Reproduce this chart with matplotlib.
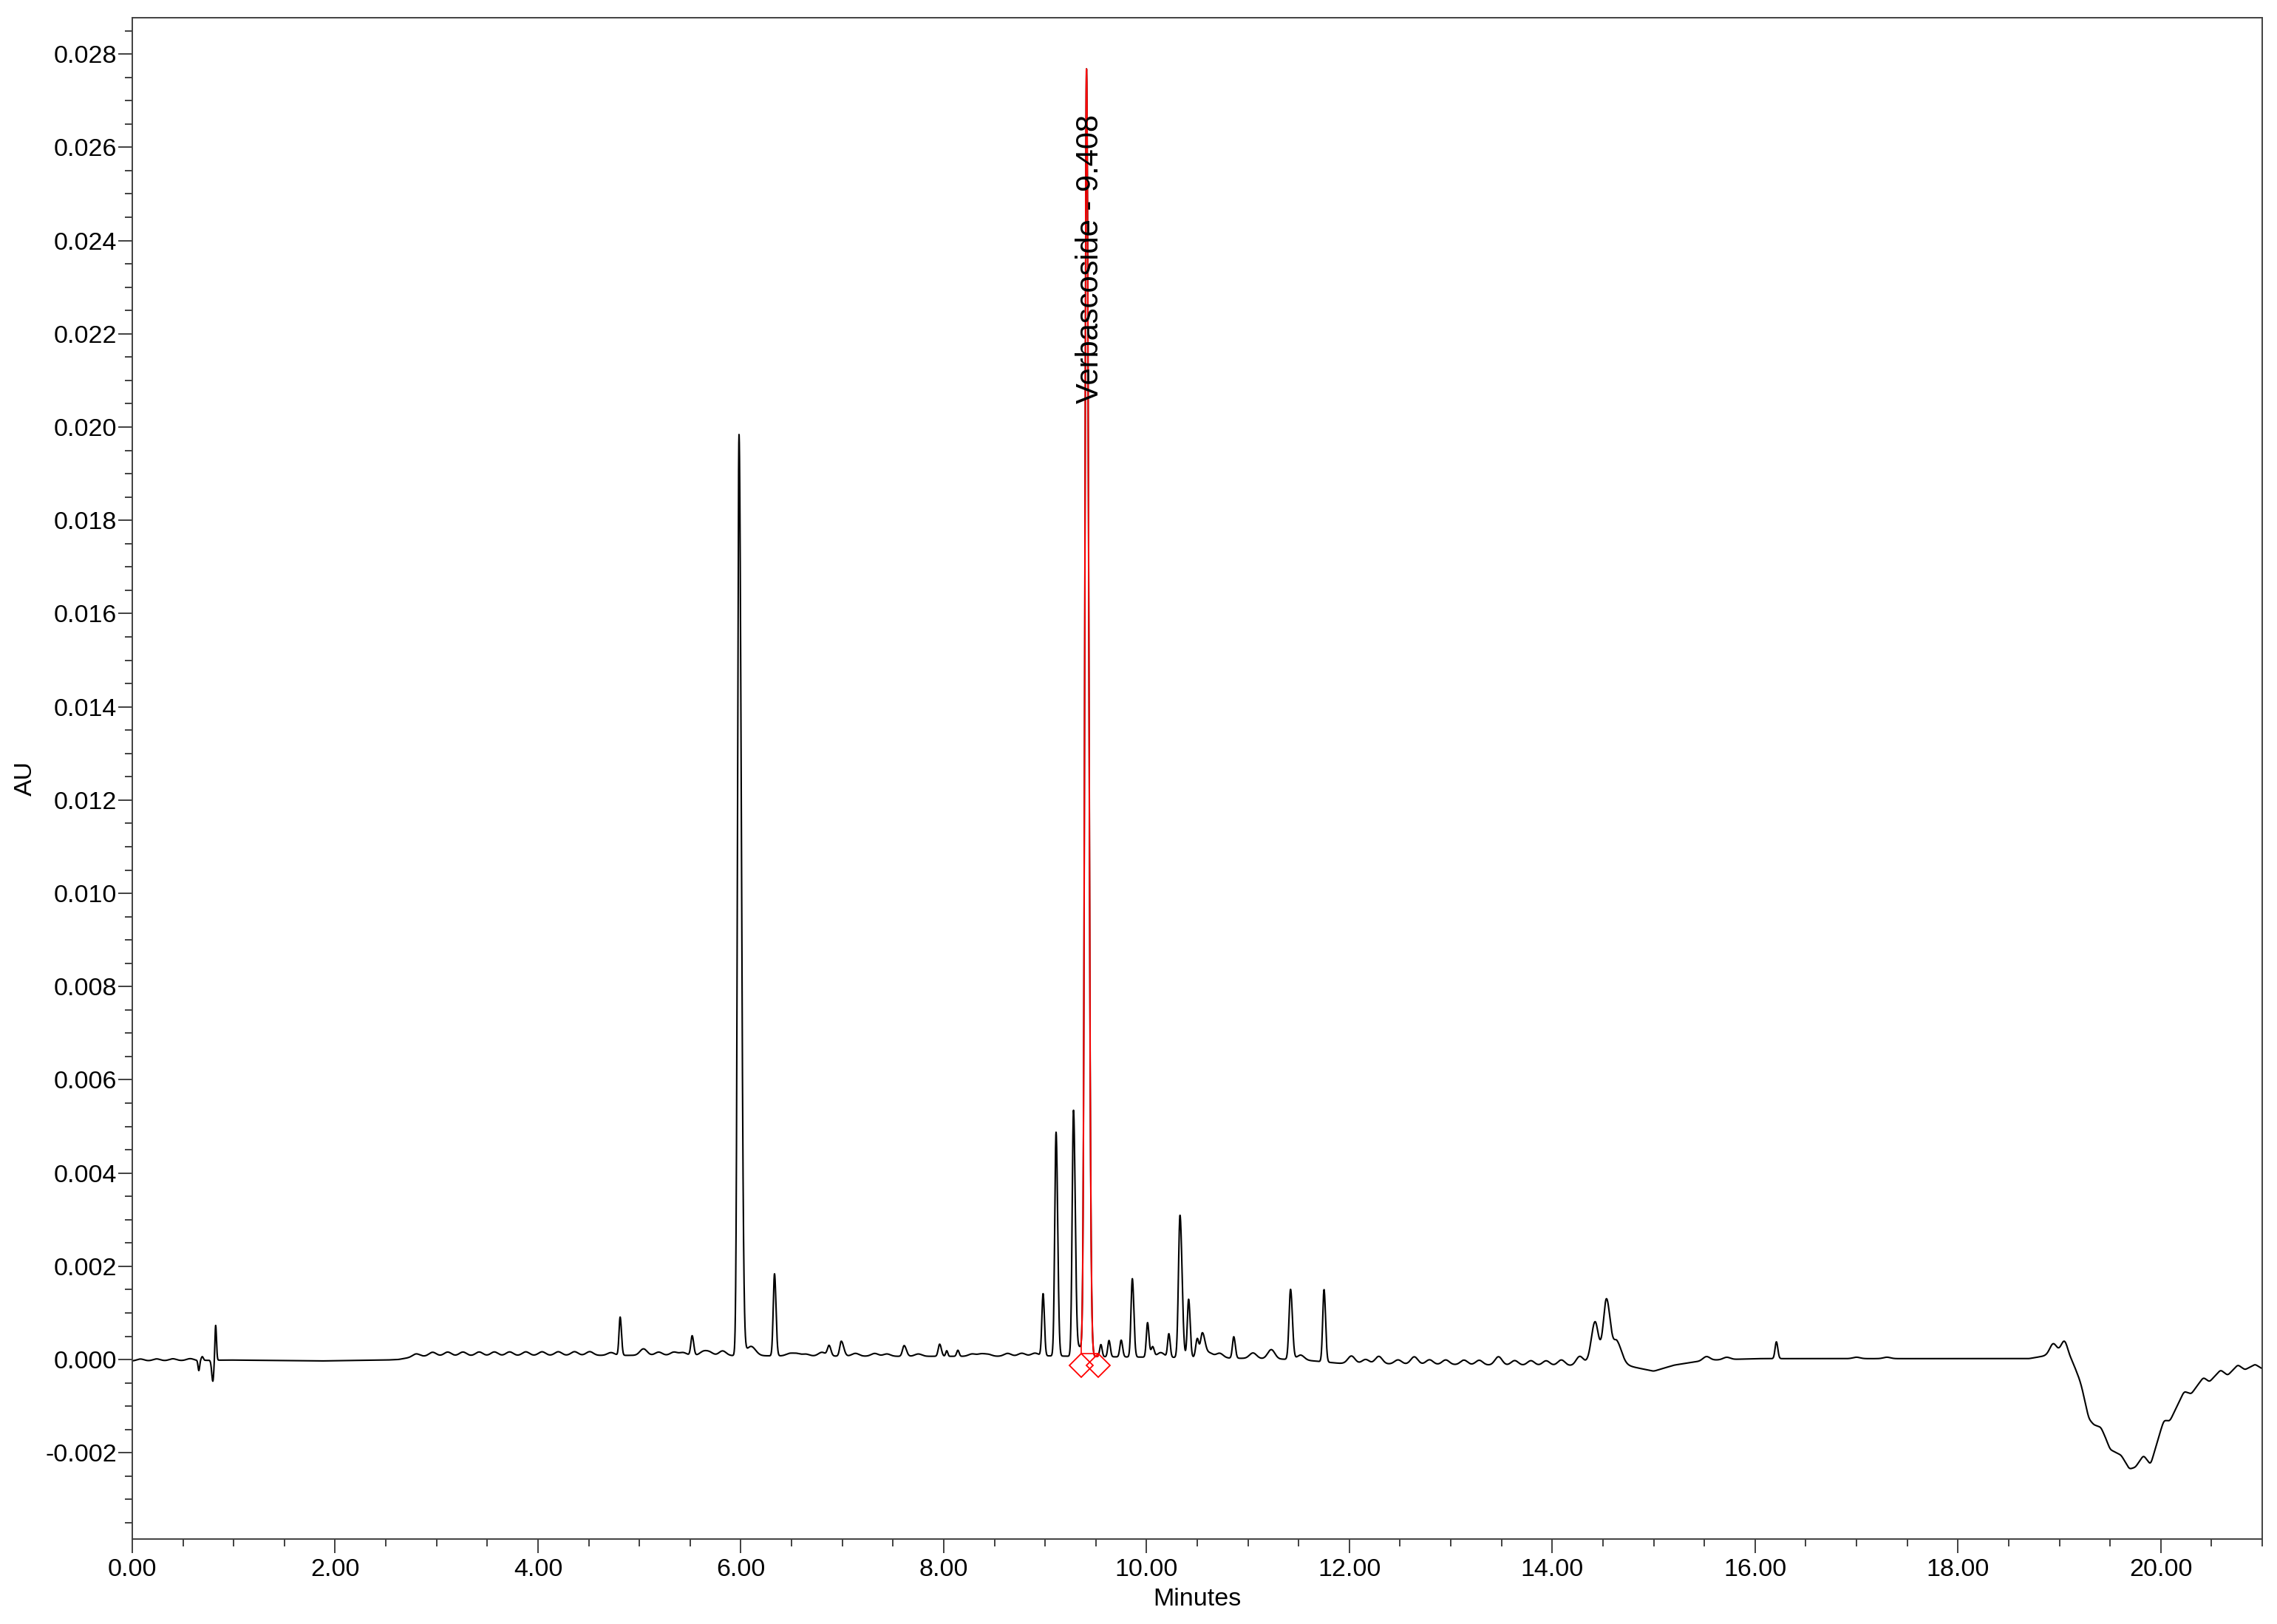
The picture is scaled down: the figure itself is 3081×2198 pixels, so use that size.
import numpy as np
import matplotlib
matplotlib.use("Agg")
import matplotlib.pyplot as plt
from matplotlib.ticker import MultipleLocator, FormatStrFormatter

# slow baseline of the trace (minutes, AU)
BASE_T = [0.00, 0.60, 0.95, 1.85, 2.50, 2.62, 2.78, 3.00, 4.50, 5.50, 6.30, 7.50,
          8.50, 9.00, 9.60, 10.60, 11.10, 11.50, 11.90, 12.60, 13.50, 14.20, 14.60,
          14.80, 15.00, 15.20, 15.40, 15.60, 16.00, 17.50, 18.70, 18.86, 19.05,
          19.13, 19.19, 19.22, 19.29, 19.34, 19.41, 19.46, 19.50, 19.61, 19.65,
          19.69, 19.75, 19.83, 19.90, 19.96, 20.03, 20.09, 20.16, 20.23, 20.30,
          20.42, 20.48, 20.59, 20.66, 20.76, 20.83, 20.93, 21.00]
BASE_AU = [-0.00003, -0.00002, -0.00001, -0.00003, -0.00001, 0.00000, 0.00006,
           0.00008, 0.00009, 0.00009, 0.00008, 0.00007, 0.00007, 0.00008, 0.00006,
           0.00004, 0.00002, 0.00000, -0.00008, -0.00010, -0.00012, -0.00013,
           -0.00006, -0.00016, -0.00025, -0.00012, -0.00005, -0.00001, 0.00002,
           0.00002, 0.00002, 0.00008, 0.00010, -0.00005, -0.00037, -0.00058,
           -0.00127, -0.00140, -0.00145, -0.00170, -0.00193, -0.00205, -0.00220,
           -0.00235, -0.00231, -0.00205, -0.00226, -0.00180, -0.00130, -0.00132,
           -0.00100, -0.00068, -0.00074, -0.00038, -0.00048, -0.00022, -0.00034,
           -0.00011, -0.00022, -0.00010, -0.00020]

# peaks: retention time, height above baseline, left / right width (min)
PEAK_RT = [0.656, 0.690, 0.794, 0.822, 4.810, 5.520, 5.982, 6.100, 6.332, 6.870,
           6.990, 7.610, 7.960, 8.030, 8.140, 8.980, 9.108, 9.280, 9.340, 9.408,
           9.550, 9.630, 9.750, 9.860, 10.010, 10.060, 10.220, 10.330, 10.415,
           10.500, 10.550, 10.860, 11.420, 11.750, 14.420, 14.520, 14.535, 14.640,
           16.210, 18.940, 19.050]
PEAK_AU = [-0.00022, 0.00008, -0.00045, 0.00075, 0.00082, 0.00042, 0.01975,
           0.00020, 0.00176, 0.00022, 0.00032, 0.00023, 0.00026, 0.00012, 0.00013,
           0.00133, 0.00480, 0.00525, 0.00020, 0.02760, 0.00026, 0.00035, 0.00036,
           0.00168, 0.00074, 0.00022, 0.00050, 0.00305, 0.00125, 0.00040, 0.00052,
           0.00046, 0.00150, 0.00155, 0.00074, 0.00030, 0.00108, 0.00035, 0.00036,
           0.00025, 0.00030]
PEAK_SL = [0.008, 0.010, 0.011, 0.007, 0.011, 0.013, 0.0145, 0.045, 0.0125, 0.016,
           0.015, 0.016, 0.014, 0.010, 0.012, 0.012, 0.013, 0.013, 0.030, 0.016,
           0.012, 0.012, 0.013, 0.013, 0.012, 0.015, 0.012, 0.015, 0.013, 0.015,
           0.018, 0.013, 0.015, 0.013, 0.035, 0.090, 0.028, 0.030, 0.013, 0.035,
           0.035]
PEAK_SR = [0.008, 0.010, 0.009, 0.008, 0.013, 0.015, 0.022, 0.045, 0.0145, 0.018,
           0.024, 0.022, 0.017, 0.010, 0.012, 0.013, 0.016, 0.017, 0.030, 0.021,
           0.012, 0.013, 0.014, 0.015, 0.014, 0.015, 0.013, 0.020, 0.015, 0.015,
           0.026, 0.015, 0.018, 0.015, 0.030, 0.090, 0.035, 0.045, 0.014, 0.035,
           0.035]

# small baseline bumps (pump ripple and minor peaks)
BUMP_RT = [0.08, 0.24, 0.40, 0.57,
           2.80, 2.96, 3.11, 3.26, 3.42, 3.57, 3.72, 3.88, 4.04, 4.20, 4.36, 4.51,
           4.72, 5.04, 5.19, 5.34, 5.43, 5.63, 5.69, 5.82,
           6.48, 6.55, 6.64, 6.80, 7.13, 7.32, 7.44, 7.75, 8.28, 8.37, 8.44, 8.63,
           8.77, 8.90,
           10.14, 10.62, 10.72, 11.05, 11.23, 11.52,
           12.02, 12.16, 12.29, 12.48, 12.64, 12.79, 12.95, 13.13, 13.28, 13.47,
           13.63, 13.79, 13.94, 14.09, 14.27,
           15.52, 15.72, 17.00, 17.30]
BUMP_AU = [0.00004, 0.00004, 0.00004, 0.00004,
           0.00006, 0.00008, 0.00008, 0.00008, 0.00008, 0.00008, 0.00008, 0.00008,
           0.00008, 0.00008, 0.00008, 0.00008,
           0.00006, 0.00014, 0.00007, 0.00007, 0.00006, 0.00008, 0.00007, 0.00010,
           0.00005, 0.00005, 0.00004, 0.00008, 0.00006, 0.00006, 0.00005, 0.00005,
           0.00005, 0.00005, 0.00004, 0.00006, 0.00006, 0.00006,
           0.00010, 0.00010, 0.00010, 0.00012, 0.00020, 0.00010,
           0.00016, 0.00009, 0.00016, 0.00009, 0.00016, 0.00010, 0.00010, 0.00010,
           0.00010, 0.00018, 0.00010, 0.00010, 0.00010, 0.00012, 0.00018,
           0.00009, 0.00005, 0.00003, 0.00003]

# integrated peak
LABEL = "Verbascoside - 9.408"
LABEL_RT = 9.408
LABEL_AU = 0.0205
PEAK_START = 9.356
PEAK_END = 9.524
PEAK_BASE_AU = 0.00013
MARKER_AU = -0.00012

plt.rcParams["font.family"] = ["Liberation Sans", "DejaVu Sans"]
plt.rcParams["axes.unicode_minus"] = False

# trace
t = np.arange(0, 21.0005, 0.001)
base = np.interp(t, BASE_T, BASE_AU)
k = np.exp(-0.5 * (np.arange(-40, 41) * 0.001 / 0.012) ** 2)
k /= k.sum()
base = np.convolve(np.pad(base, 40, mode="edge"), k, mode="valid")
au = base.copy()
for rt, h, sl, sr in zip(PEAK_RT, PEAK_AU, PEAK_SL, PEAK_SR):
    s = np.where(t < rt, sl, sr)
    au += h * np.exp(-0.5 * ((t - rt) / s) ** 2)
for rt, h in zip(BUMP_RT, BUMP_AU):
    au += h * np.exp(-0.5 * ((t - rt) / 0.035) ** 2)

fig = plt.figure(figsize=(30.81, 21.98), dpi=100)
ax = fig.add_axes([0.0581, 0.0523, 0.9354, 0.9368])

ax.plot(t, au, color="black", lw=1.5)

# red peak overlay
m = (t >= PEAK_START) & (t <= PEAK_END)
ax.plot(t[m], au[m], color="red", lw=1.4)
a0 = np.interp(PEAK_START, t, au)
a1 = np.interp(PEAK_END, t, au)
ax.plot([PEAK_START, PEAK_START, PEAK_END, PEAK_END],
        [a0, PEAK_BASE_AU, PEAK_BASE_AU, a1], color="red", lw=1.2)
ax.plot([PEAK_START, PEAK_END], [MARKER_AU, MARKER_AU], ls="none", marker="D",
        ms=16, mfc="none", mec="red", mew=1.3)

# peak name, text box nudged so the line runs through the letters like the original
ax.annotate(LABEL, xy=(LABEL_RT, LABEL_AU), xytext=(3.2, 0),
            textcoords="offset points", rotation=90, ha="center", va="bottom",
            fontsize=30, color="black", zorder=5)

ax.set_xlim(0, 21)
ax.set_ylim(-0.00385, 0.02878)
ax.xaxis.set_major_locator(MultipleLocator(2))
ax.xaxis.set_minor_locator(MultipleLocator(0.5))
ax.xaxis.set_major_formatter(FormatStrFormatter("%.2f"))
ax.yaxis.set_major_locator(MultipleLocator(0.002))
ax.yaxis.set_minor_locator(MultipleLocator(0.0005))
ax.yaxis.set_major_formatter(FormatStrFormatter("%.3f"))

ax.tick_params(which="major", length=13.7, width=1.4, color="0.25",
               labelsize=24.5, labelcolor="black")
ax.tick_params(which="minor", length=7.2, width=1.4, color="0.25")
ax.tick_params(axis="y", which="major", pad=1.5)
ax.tick_params(axis="x", which="major", pad=5)
for sp in ax.spines.values():
    sp.set_linewidth(1.4)
    sp.set_color("0.25")

ax.set_xlabel("Minutes", fontsize=24.5, va="center")
ax.set_ylabel("AU", fontsize=24.5, va="center")
ax.xaxis.set_label_coords(0.5, -0.0398)
ax.yaxis.set_label_coords(-0.0503, 0.5)

fig.savefig("out.png", dpi=100)
